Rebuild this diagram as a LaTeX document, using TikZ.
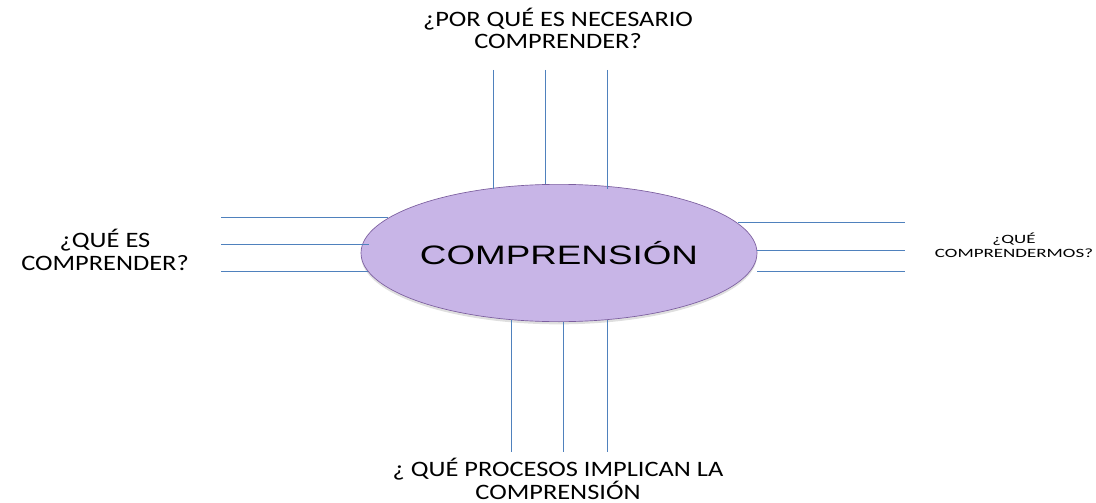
\documentclass[tikz,border=0pt]{standalone}
\usepackage{graphicx}
\usepackage{fontspec}
\setmainfont{Carlito}
\newfontfamily\arialfont{Liberation Sans}
\usetikzlibrary{shapes.geometric,shadows}
\definecolor{lineblue}{HTML}{4F81BD}
\definecolor{lilac}{HTML}{C8B5E7}
\definecolor{lilacedge}{HTML}{7B5E9E}
\newcommand{\wide}[2][1.2]{\scalebox{#1}[1]{#2}}

\begin{document}
\begin{tikzpicture}[x=0.75pt,y=-0.75pt,
  line/.style={lineblue, line width=0.8pt},
  question/.style={align=center, font=\fontsize{16.5}{17}\selectfont},
  smallq/.style={align=center, font=\fontsize{9.5}{10.5}\selectfont}]
\useasboundingbox (0,0) rectangle (1096,503);
\node [ellipse, draw=lilacedge, line width=0.5pt, fill=lilac, inner sep=0pt,
  minimum width=297pt, minimum height=103pt,
  drop shadow={opacity=0.25, shadow xshift=0pt, shadow yshift=-2pt},
  font=\arialfont\fontsize{20}{22}\selectfont] (comp) at (559,253) {\wide[1.38]{COMPRENSIÓN}};
% questions
\node [question] (why) at (558,28.5) {\wide{¿POR QUÉ ES NECESARIO}\\\wide{COMPRENDER?}};
\node [question] (what) at (105,250) {\wide{¿QUÉ ES}\\\wide{COMPRENDER?}};
\node [smallq] (whatc) at (1014,245) {\wide[1.5]{¿QUÉ}\\\wide[1.5]{COMPRENDERMOS?}};
\node [question] (how) at (558,479) {\wide{¿ QUÉ PROCESOS IMPLICAN LA}\\\wide{COMPRENSIÓN}};
% top lines
\foreach \x/\y [count=\i] in {493.5/189, 545.5/184, 607.5/189} {
  \coordinate (t\i) at (\x,70);
  \coordinate (tt\i) at (\x,\y);
  \draw [line] (t\i) -- (tt\i);
}
% bottom lines
\foreach \x/\y [count=\i] in {511.5/320, 563.5/322, 607.5/320} {
  \coordinate (b\i) at (\x,\y);
  \coordinate (bb\i) at (\x,452);
  \draw [line] (b\i) -- (bb\i);
}
% left lines
\foreach \y/\x [count=\i] in {217.5/388, 244.5/369, 271.5/368} {
  \coordinate (l\i) at (221,\y);
  \coordinate (ll\i) at (\x,\y);
  \draw [line] (l\i) -- (ll\i);
}
% right lines
\foreach \y/\x [count=\i] in {222.5/738, 250.5/757, 271.5/757} {
  \coordinate (r\i) at (\x,\y);
  \coordinate (rr\i) at (905,\y);
  \draw [line] (r\i) -- (rr\i);
}
\end{tikzpicture}
\end{document}
